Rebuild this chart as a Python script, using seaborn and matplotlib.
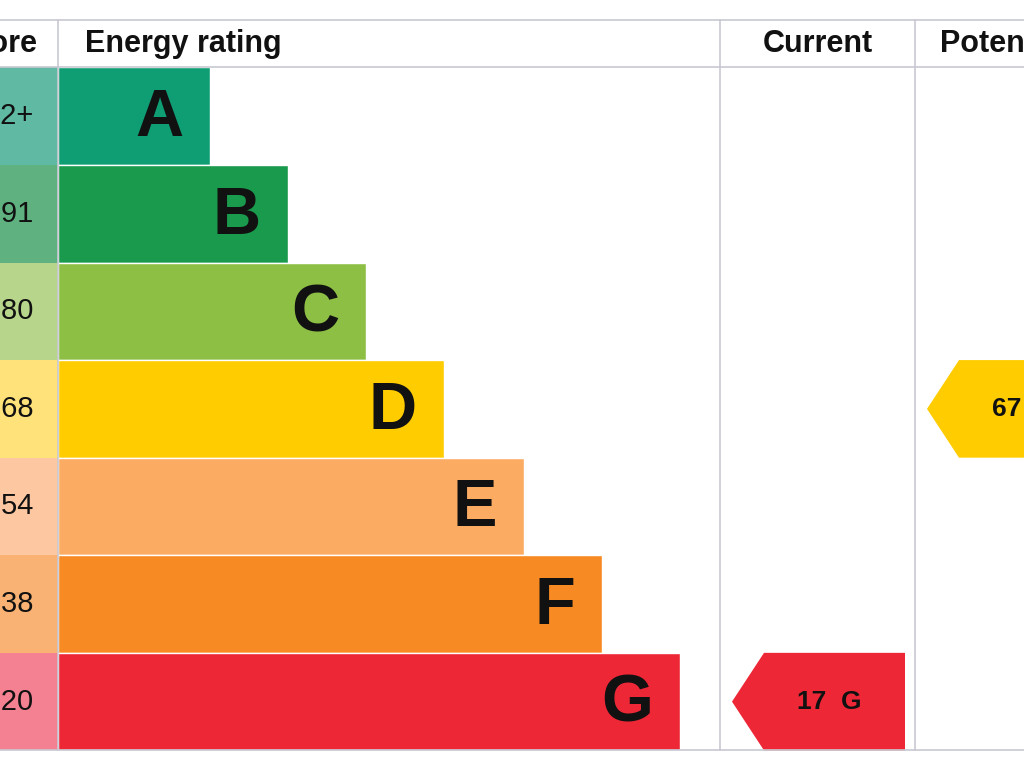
import matplotlib
matplotlib.use("Agg")
import matplotlib.pyplot as plt
import seaborn as sns
from matplotlib.patches import Polygon, Rectangle

# EPC bands
bands = ["A", "B", "C", "D", "E", "F", "G"]
ranges = ["92+", "81-91", "69-80", "55-68", "39-54", "21-38", "1-20"]
bar_len = [152, 230, 308, 386, 466, 544, 622]
colors = ["#0f9e73", "#1a9a4c", "#8dbf45", "#ffcc00", "#fcab62", "#f78a22", "#ee2737"]
light = ["#5fb9a3", "#5fb27f", "#b7d68c", "#ffe27a", "#fdc8a1", "#f9b274", "#f38191"]
current_score, current_band = 17, "G"
potential_score, potential_band = 67, "D"

sns.set_style("white")
plt.rcParams["font.family"] = ["Liberation Sans", "DejaVu Sans"]
fig = plt.figure(figsize=(10.24, 7.68), dpi=100)
ax = fig.add_axes([0, 0, 1, 1])

sns.barplot(x=bar_len, y=bands, hue=bands, palette=colors, width=1.0,
            legend=False, ax=ax, saturation=1, orient="h")

ax.set_xlim(-58, 966)
ax.set_ylim(6.68, -1.19)
ax.axis("off")

line_c = "#c8c8d2"
for i, b in enumerate(bands):
    ax.add_patch(Rectangle((-70, i - 0.5), 70, 1, color=light[i], lw=0))
    ax.text(-24, i, ranges[i], ha="right", va="center", fontsize=21, color="#111")
    ax.text(bar_len[i] - 27, i + 0.03, b, ha="right", va="center",
            fontsize=48, fontweight="bold", color="#111")

# grid lines
ax.plot([-58, 966], [-0.99, -0.99], color=line_c, lw=1.2)
ax.plot([-58, 966], [-0.5, -0.5], color=line_c, lw=1.2)
ax.plot([-58, 966], [6.5, 6.5], color=line_c, lw=1.2)
for x in [0, 662, 857]:
    ax.plot([x, x], [-0.99, 6.5], color=line_c, lw=1.2)

# headers
hdr = dict(va="center", fontsize=22, fontweight="bold", color="#111")
ax.text(-21, -0.74, "Score", ha="right", **hdr)
ax.text(27, -0.74, "Energy rating", ha="left", **hdr)
ax.text(760, -0.74, "Current", ha="center", **hdr)
ax.text(882, -0.74, "Potential", ha="left", **hdr)

def arrow(x0, x1, row, col, label):
    pts = [(x0, row), (x0 + 32, row - 0.5), (x1, row - 0.5), (x1, row + 0.5), (x0 + 32, row + 0.5)]
    ax.add_patch(Polygon(pts, closed=True, color=col, lw=0))
    ax.text(x0 + 65, row, label, ha="left", va="center", fontsize=19, fontweight="bold", color="#111")

ci = bands.index(current_band)
arrow(674, 847, ci, colors[ci], f"{current_score}  {current_band}")
pi = bands.index(potential_band)
arrow(869, 1050, pi, colors[pi], f"{potential_score}  {potential_band}")

fig.savefig("out.png", dpi=100)
